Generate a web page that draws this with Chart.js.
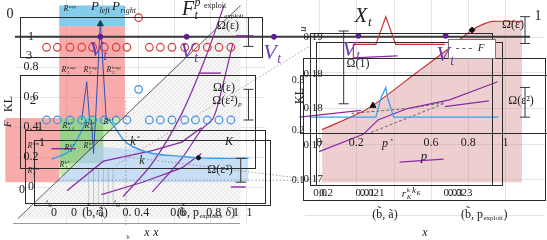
<!DOCTYPE html>
<html>
<head>
<meta charset="utf-8">
<script src="https://cdn.jsdelivr.net/npm/chart.js@4.4.1/dist/chart.umd.min.js"></script>
<style>
html,body{margin:0;padding:0;background:#fff}
canvas{display:block}
</style>
</head>
<body>
<canvas id="c" width="547" height="240"></canvas>
<script>
// ---------- left panel, unit axes (xL, yL) ----------
const circleX = [-0.109,-0.049,0.022,0.087,0.148,0.213,0.279,0.339,0.404,0.464,0.525,0.590,0.661,0.721,0.787,0.852,0.918];
const redCircleY = [0.93,0.93,0.93,0.93,0.93,0.93,0.93,0.93,1.127,0.93,0.93,0.93,0.93,0.93,0.93,0.93,0.93];
const blueCircleY = [0.446,0.446,0.446,0.446,0.446,0.446,0.446,0.446,0.65,0.446,0.446,0.446,0.446,0.446,0.446,0.446,0.446];

const blueCurveX = [0.224,0.262,0.317,0.372,0.481,0.645,0.738,0.809,1.016];
const blueCurveY = [0.459,0.414,0.318,0.268,0.223,0.204,0.194,0.191,0.191];
const blueLowX = [-0.082,0.016,0.082,0.115];
const blueLowY = [0.185,0.236,0.363,0.446];
const spikeLX = [0.087,0.115,0.131,0.142,0.153,0.164,0.191,0.224];
const spikeLY = [0.446,0.701,0.446,0.446,0.223,0.446,1.102,0.446];

const purple1X = [0.005,0.208,0.481,0.645,0.754];
const purple1Y = [-0.025,0.172,0.242,0.299,0.395];
const purple2X = [0.197,0.426,0.645,0.754];
const purple2Y = [-0.051,0.032,0.127,0.223];
const purple3X = [0.317,0.481,0.645,0.781,0.880];
const purple3Y = [-0.064,0.159,0.490,0.873,1.210];
const purple4X = [0.481,0.645,0.754,0.820,0.874,0.929];
const purple4Y = [-0.032,0.191,0.382,0.459,0.682,0.955];
const purpleSegs = [[-0.082,0.055,0.255],[0.738,0.863,0.758],[0.945,1.044,1.006],[0.918,1.000,0.0]];
const purpleDotX = [0.191,0.672,1.158];
const purpleDotY = [1.0,1.0,1.0];

const redRectA = [[-0.038,1.07],[0.328,1.07],[0.328,0.459],[-0.038,0.459]];
const redRectB = [[-0.339,0.459],[-0.038,0.459],[-0.038,0.032],[-0.339,0.032]];
const blueRect = [[-0.038,1.21],[0.328,1.21],[0.328,1.07],[-0.038,1.07]];
const greenLight = [[-0.038,0.459],[0.317,0.459],[-0.011,0.076],[-0.038,0.076]];
const greenDark = [[-0.038,0.459],[0.208,0.459],[0.208,0.159],[-0.038,0.159]];
const lightBlueX = [-0.055,0.153,0.372,0.552,0.738,1.016];
const lightBlueY = [0.032,0.268,0.255,0.210,0.191,0.191];
const diagX = [-0.268,0.973];
const diagY = [-0.210,1.210];

const dotted = [
  [[0.279,0.146],[1.355,0.936]],
  [[0.317,0.204],[1.355,0.051]],
  [[-0.038,0.045],[1.355,0.045]],
  [[0.333,0.573],[0.333,-0.255]]
];
const errL = [[1.016,0.936,1.127],[1.016,0.446,0.650],[0.973,0.032,0.191]];
const ruleX = [0.126,0.153,0.180,0.208,0.235,0.262];

// ---------- right panel (xR, KL) ----------
const redCurveX = [0.016,0.263,0.526,0.684,0.821,0.879,0.932,1.089];
const redCurveY = [0.17698,0.17993,0.18503,0.18812,0.19094,0.19174,0.19215,0.19215];
const xtX = [0.184,0.184,0.305,0.358,0.411,0.674];
const xtY = [0.18705,0.18893,0.18893,0.19282,0.18893,0.18893];
const spikeRX = [-0.053,0.305,0.332,0.358,0.368,0.400,0.963];
const spikeRY = [0.17872,0.17872,0.18141,0.18289,0.18141,0.17872,0.17872];
const purpleAX = [-0.105,0.226], purpleAY = [0.17872,0.17966];
const purpleBX = [0,0.237,0.316,0.474,0.700,0.958];
const purpleBY = [0.17389,0.17631,0.17832,0.17993,0.18114,0.18369];
const purpleCX = [0.674,0.911], purpleCY = [0.18020,0.18101];
const purplePX = [0.432,0.668], purplePY = [0.17242,0.17282];
const purpleVX = [0.184,0.421], purpleVY = [0.18705,0.18732];
const fLine1X = [0.174,0.474,0.668], fLine1Y = [0.17926,0.17993,0.18074];
const fLine2X = [0.279,0.668], fLine2Y = [0.17658,0.18060];
const uLineX = [-1.632,1.132], uLineY = [0.19,0.19];
const purpleDotRX = [0.211,0.679], purpleDotRY = [0.19013,0.19013];
const errR = [[0.132,0.18060,0.19081],[1.105,0.18906,0.19282],[1.105,0.17872,0.18289]];

const ticksLeftY = [0,0.2,0.4,0.6,0.8,1];
const ticksLeftX = [0,0.4,0.6,0.8,1];
const ticksRightX = [0,0.2,0.6,0.8,1];
const ticksRightY = [0.17,0.18,0.19];

const purple = '#8a2aa6';
const pts = (xs, ys) => xs.map((x, i) => ({x: x, y: ys[i]}));
const poly = a => a.concat([a[0]]).map(p => ({x: p[0], y: p[1]}));

// hatch for the region under the diagonal
const hc = document.createElement('canvas');
hc.width = 4; hc.height = 4;
const hx = hc.getContext('2d');
hx.fillStyle = '#f6f6f6'; hx.fillRect(0,0,4,4);
hx.strokeStyle = '#dcdcdc'; hx.lineWidth = 0.6;
hx.beginPath(); hx.moveTo(0,4); hx.lineTo(4,0); hx.stroke();
const hatch = hx.createPattern(hc, 'repeat');

const L = {xAxisID: 'xL', yAxisID: 'yL'};
const R = {xAxisID: 'xR', yAxisID: 'yR'};
const line = (data, color, extra) => Object.assign({data: data, borderColor: color, borderWidth: 1.2, pointRadius: 0, fill: false, order: 5}, extra);

const datasets = [
  // markers on top
  Object.assign({data: pts(circleX, redCircleY), showLine: false, pointRadius: 3.8, pointBorderColor: '#d43c3c', pointBackgroundColor: 'rgba(0,0,0,0)', pointBorderWidth: 1.2, order: 1}, L),
  Object.assign({data: pts(circleX, blueCircleY), showLine: false, pointRadius: 3.8, pointBorderColor: '#3d8fe6', pointBackgroundColor: 'rgba(0,0,0,0)', pointBorderWidth: 1.2, order: 1}, L),
  Object.assign({data: pts(purpleDotX, purpleDotY), showLine: false, pointRadius: 2.5, pointBackgroundColor: '#5a1f96', pointBorderColor: '#5a1f96', order: 1}, L),
  Object.assign({data: pts(purpleDotRX, purpleDotRY), showLine: false, pointRadius: 2.5, pointBackgroundColor: '#5a1f96', pointBorderColor: '#5a1f96', order: 1}, R),
  Object.assign({data: [{x: 0.191, y: 1.085}], showLine: false, pointStyle: 'triangle', pointRadius: 3.5, pointBackgroundColor: '#1d3c4c', pointBorderColor: '#1d3c4c', order: 1}, L),
  Object.assign({data: [{x: 0.738, y: 0.194}], showLine: false, pointRadius: 2, pointBackgroundColor: '#111', pointBorderColor: '#111', order: 1}, L),
  Object.assign({data: [{x: 0.289, y: 0.18034}], showLine: false, pointStyle: 'triangle', pointRadius: 3.5, pointBackgroundColor: '#111', pointBorderColor: '#111', order: 1}, R),
  Object.assign({data: [{x: 0.821, y: 0.19094}], showLine: false, pointStyle: 'rectRot', pointRadius: 3, pointBackgroundColor: '#111', pointBorderColor: '#111', order: 1}, R),

  // left lines
  Object.assign(line(pts(blueCurveX, blueCurveY), '#3a9ae8', {borderWidth: 1.4, tension: 0.3}), L),
  Object.assign(line(pts(blueLowX, blueLowY), '#3a9ae8', {borderWidth: 1.4, tension: 0.3}), L),
  Object.assign(line(pts(spikeLX, spikeLY), '#3350b4', {borderWidth: 1}), L),
  Object.assign(line(pts(purple1X, purple1Y), purple), L),
  Object.assign(line(pts(purple2X, purple2Y), purple), L),
  Object.assign(line(pts(purple3X, purple3Y), purple, {tension: 0.3}), L),
  Object.assign(line(pts(purple4X, purple4Y), purple, {tension: 0.3}), L),
  Object.assign(line(pts(diagX, diagY), '#333', {borderWidth: 0.8}), L),

  // right lines
  Object.assign(line(pts(redCurveX, redCurveY), '#c83232', {borderWidth: 1.2, tension: 0.25, fill: {value: 0.1696}, backgroundColor: 'rgba(214,140,140,0.42)', order: 15}), R),
  Object.assign(line(pts(xtX, xtY), '#c83232'), R),
  Object.assign(line(pts(spikeRX, spikeRY), '#3aa0f0', {borderWidth: 1.3}), R),
  Object.assign(line(pts(purpleAX, purpleAY), purple), R),
  Object.assign(line(pts(purpleBX, purpleBY), purple), R),
  Object.assign(line(pts(purpleCX, purpleCY), purple), R),
  Object.assign(line(pts(purplePX, purplePY), purple), R),
  Object.assign(line(pts(purpleVX, purpleVY), purple), R),
  Object.assign(line(pts(fLine1X, fLine1Y), '#666', {borderDash: [3,2], borderWidth: 1}), R),
  Object.assign(line(pts(fLine2X, fLine2Y), '#666', {borderDash: [3,2], borderWidth: 1}), R),
  Object.assign(line(pts(uLineX, uLineY), '#3a3a3a', {borderWidth: 2.2}), R),

  // left regions
  Object.assign({data: pts(diagX, diagY), borderWidth: 0, pointRadius: 0, fill: {value: -0.21}, backgroundColor: hatch, order: 20}, L),
  Object.assign({data: poly(redRectA), borderWidth: 0, pointRadius: 0, fill: 'shape', backgroundColor: 'rgba(242,120,120,0.62)', order: 19}, L),
  Object.assign({data: poly(redRectB), borderWidth: 0, pointRadius: 0, fill: 'shape', backgroundColor: 'rgba(242,120,120,0.62)', order: 19}, L),
  Object.assign({data: poly(blueRect), borderWidth: 0, pointRadius: 0, fill: 'shape', backgroundColor: 'rgba(110,195,232,0.85)', order: 19}, L),
  Object.assign({data: poly(greenLight), borderWidth: 0, pointRadius: 0, fill: 'shape', backgroundColor: 'rgba(190,234,168,0.95)', order: 18}, L),
  Object.assign({data: poly(greenDark), borderWidth: 0, pointRadius: 0, fill: 'shape', backgroundColor: 'rgba(120,185,115,0.55)', order: 17}, L),
  Object.assign({data: pts(lightBlueX, lightBlueY), borderWidth: 0, pointRadius: 0, fill: {value: 0.032}, backgroundColor: 'rgba(170,208,245,0.6)', order: 16}, L)
];

const labels = [
  // right panel
  {t: 'X', x: 361, y: 16, s: 21, it: true, sub: 't'},
  {t: 'Ω(ε)', x: 513, y: 25, s: 12},
  {t: '1', x: 538, y: 16, s: 14},
  {t: 'Ω(1)', x: 358, y: 64, s: 12},
  {t: 'Ω(ε²)', x: 521, y: 101, s: 12},
  {t: 'V', x: 349, y: 50, s: 22, it: true, sub: 't', c: '#6b3db3'},
  {t: 'V', x: 443, y: 55, s: 22, it: true, sub: 't', c: '#6b3db3'},
  {t: 'p', x: 385, y: 144, s: 12, it: true, sup: '⋆'},
  {t: 'p', x: 424, y: 157, s: 13, it: true},
  {t: 'KL', x: 300, y: 96, s: 12, rot: -Math.PI / 2},
  {t: 'u', x: 303, y: 29, s: 11, it: true, rot: -Math.PI / 2},
  {t: '0.18', x: 313, y: 74, s: 11},
  {t: '0.17', x: 313, y: 145, s: 11},
  {t: '0.3', x: 298, y: 80, s: 10},
  {t: '0.2', x: 298, y: 130, s: 10},
  {t: '0.1', x: 298, y: 180, s: 10},
  {t: '0.0', x: 320, y: 193, s: 11}, {t: '0.2', x: 326, y: 193, s: 11},
  {t: '0.01', x: 365, y: 193, s: 11}, {t: '0.021', x: 372, y: 193, s: 11},
  {t: 'r', x: 404, y: 194, s: 11, it: true, sub: 'K', sup: 'k'}, {t: 'k', x: 414, y: 191, s: 9, it: true, sub: 'K'},
  {t: '0.03', x: 453, y: 193, s: 11}, {t: '0.023', x: 460, y: 193, s: 11},
  {t: '(b̃, ã)', x: 385, y: 215, s: 12},
  {t: '(b̃, p', x: 472, y: 215, s: 12, sub: 'exploit', subIt: false, after: ')'},
  {t: 'x', x: 425, y: 233, s: 12, it: true},
  // legend
  {t: '- - -  F', x: 470, y: 48, s: 11, it: true},
  // left panel
  {t: 'F', x: 188, y: 10, s: 20, it: true, sub: 't', sup: 'p'},
  {t: 'P', x: 95, y: 7, s: 13, it: true, sub: 'left'}, {t: 'P', x: 116, y: 7, s: 13, it: true, sub: 'right'},
  {t: 'exploit', x: 215, y: 6, s: 8},
  {t: 'exploit', x: 234, y: 16, s: 7},
  {t: 'R', x: 66, y: 9, s: 8, it: true, sup: 'exp'},
  {t: 'R', x: 64, y: 70, s: 8, it: true, sub: '1', sup: 'loop'},
  {t: 'R', x: 86, y: 70, s: 8, it: true, sub: '2', sup: 'loop'},
  {t: 'R', x: 109, y: 70, s: 8, it: true, sub: '3', sup: 'loop'},
  {t: 'R', x: 65, y: 126, s: 8, it: true, sub: '1,1', sup: 'k*'},
  {t: 'R', x: 87, y: 126, s: 8, it: true, sub: '3', sup: 'k*'},
  {t: 'R', x: 106, y: 122, s: 8, it: true, sup: 'k*'},
  {t: 'R', x: 67, y: 148, s: 8, it: true, sub: '1', sup: 'k*'},
  {t: 'R', x: 86, y: 146, s: 8, it: true, sub: '2', sup: 'k*'},
  {t: 'R', x: 62, y: 165, s: 8, it: true, sub: '1', sup: 'k*'},
  {t: 'R', x: 30, y: 171, s: 8, it: true, sub: '2', sup: 'bin'},
  {t: 'R', x: 30, y: 146, s: 8, it: true, sub: '1', sup: 'bin'},
  {t: 'k', x: 133, y: 142, s: 12, it: true, sup: '*'},
  {t: 'k', x: 142, y: 161, s: 12, it: true},
  {t: 'K', x: 229, y: 142, s: 12, it: true},
  {t: 'Ω(ε)', x: 228, y: 26, s: 12},
  {t: 'Ω(ε)', x: 224, y: 88, s: 12},
  {t: 'Ω(ε²)', x: 225, y: 101, s: 12, sub: 'p', subIt: true},
  {t: 'Ω(ε²)', x: 220, y: 170, s: 12},
  {t: 'V', x: 96, y: 50, s: 22, it: true, sub: 't', c: '#6b3db3'},
  {t: 'V', x: 187, y: 52, s: 22, it: true, sub: 't', c: '#6b3db3'},
  {t: 'V', x: 270, y: 53, s: 22, it: true, sub: 't', c: '#6b3db3'},
  {t: '0', x: 10, y: 14, s: 14},
  {t: '3', x: 29, y: 56, s: 13},
  {t: '2', x: 33, y: 101, s: 13},
  {t: '1', x: 40, y: 127, s: 13},
  {t: '1', x: 42, y: 143, s: 13},
  {t: '0', x: 22, y: 190, s: 12},
  {t: 'KL', x: 9, y: 104, s: 12, rot: -Math.PI / 2},
  {t: 'F', x: 8, y: 124, s: 11, it: true, rot: -Math.PI / 2},
  {t: '0', x: 54, y: 213, s: 12},
  {t: 'ε̃', x: 50, y: 205, s: 9, rot: -Math.PI / 2},
  {t: '(b̃, ã)', x: 95, y: 213, s: 12},
  {t: 'r', x: 98, y: 212, s: 10, it: true, sub: 'K', sup: 'k'},
  {t: 'ε̃', x: 118, y: 205, s: 9, rot: -Math.PI / 2},
  {t: '0.', x: 127, y: 213, s: 12},
  {t: '(b̃, p', x: 188, y: 213, s: 12, sub: 'exploit', subIt: false, after: ', δ)'},
  {t: '1', x: 236, y: 213, s: 12},
  {t: 'x', x: 147, y: 233, s: 12, it: true}, {t: 'x', x: 156, y: 233, s: 12, it: true},
  {t: 'b', x: 128, y: 237, s: 6}
];

const frames = [
  [20,17,262,57],[20,75,255,168],[25,130,265,203],[34,140,270,205],
  [310,33,492,185],[316,42,502,185],[303,58,545,200],[300,75,547,133]
];

const serif = '"Liberation Serif", "DejaVu Serif", serif';
function put(ctx, o) {
  ctx.save();
  ctx.translate(o.x, o.y);
  if (o.rot) ctx.rotate(o.rot);
  ctx.font = (o.it ? 'italic ' : '') + o.s + 'px ' + serif;
  ctx.fillStyle = o.c || '#222';
  ctx.textBaseline = 'middle';
  const w = ctx.measureText(o.t).width;
  ctx.fillText(o.t, -w / 2, 0);
  let end = w / 2;
  if (o.sub || o.sup) {
    const ss = Math.round(o.s * 0.62);
    ctx.font = (o.subIt === false ? '' : 'italic ') + ss + 'px ' + serif;
    let ew = 0;
    if (o.sub) { ctx.fillText(o.sub, end + 0.5, o.s * 0.3); ew = ctx.measureText(o.sub).width; }
    if (o.sup) { ctx.fillText(o.sup, end + 0.5, -o.s * 0.35); ew = Math.max(ew, ctx.measureText(o.sup).width); }
    end += ew + 1;
  }
  if (o.after) {
    ctx.font = o.s + 'px ' + serif;
    ctx.fillText(o.after, end, 0);
  }
  ctx.restore();
}

const decor = {
  id: 'decor',
  beforeDatasetsDraw(chart) {
    const c = chart.ctx, s = chart.scales;
    c.save();
    c.strokeStyle = '#e4e4e4';
    c.lineWidth = 1;
    ticksLeftY.forEach(v => {
      const x = Math.round(s.xL.getPixelForValue(v)) + 0.5;
      const y = Math.round(s.yL.getPixelForValue(v)) + 0.5;
      c.beginPath(); c.moveTo(x, 0); c.lineTo(x, 223); c.stroke();
      c.beginPath(); c.moveTo(15, y); c.lineTo(265, y); c.stroke();
    });
    [0,0.2,0.4,0.6,0.8,1].forEach(v => {
      const x = Math.round(s.xR.getPixelForValue(v)) + 0.5;
      c.beginPath(); c.moveTo(x, 0); c.lineTo(x, 200); c.stroke();
    });
    [0.165,0.17,0.175,0.18,0.185,0.19].forEach(v => {
      const y = Math.round(s.yR.getPixelForValue(v)) + 0.5;
      c.beginPath(); c.moveTo(305, y); c.lineTo(545, y); c.stroke();
    });
    c.restore();
  },
  afterDatasetsDraw(chart) {
    const c = chart.ctx, s = chart.scales;
    c.save();
    // thin reference rules
    c.strokeStyle = 'rgba(120,120,120,0.45)';
    c.lineWidth = 0.8;
    ruleX.forEach(v => {
      const x = s.xL.getPixelForValue(v);
      c.beginPath(); c.moveTo(x, s.yL.getPixelForValue(0.127)); c.lineTo(x, s.yL.getPixelForValue(-0.127)); c.stroke();
    });
    // dotted guides
    c.strokeStyle = '#888';
    c.setLineDash([1.5, 2]);
    dotted.forEach(seg => {
      c.beginPath();
      c.moveTo(s.xL.getPixelForValue(seg[0][0]), s.yL.getPixelForValue(seg[0][1]));
      c.lineTo(s.xL.getPixelForValue(seg[1][0]), s.yL.getPixelForValue(seg[1][1]));
      c.stroke();
    });
    c.setLineDash([]);
    // short purple segments
    c.strokeStyle = purple; c.lineWidth = 1.4;
    purpleSegs.forEach(p => {
      const y = s.yL.getPixelForValue(p[2]);
      c.beginPath(); c.moveTo(s.xL.getPixelForValue(p[0]), y); c.lineTo(s.xL.getPixelForValue(p[1]), y); c.stroke();
    });
    // error bars
    c.strokeStyle = '#333'; c.lineWidth = 1;
    const bar = (x, y0, y1) => {
      c.beginPath();
      c.moveTo(x, y0); c.lineTo(x, y1);
      c.moveTo(x - 5, y0); c.lineTo(x + 5, y0);
      c.moveTo(x - 5, y1); c.lineTo(x + 5, y1);
      c.stroke();
    };
    errL.forEach(e => bar(s.xL.getPixelForValue(e[0]), s.yL.getPixelForValue(e[1]), s.yL.getPixelForValue(e[2])));
    errR.forEach(e => bar(s.xR.getPixelForValue(e[0]), s.yR.getPixelForValue(e[1]), s.yR.getPixelForValue(e[2])));
    // frames
    c.strokeStyle = '#2a2a2a'; c.lineWidth = 1;
    frames.forEach(f => c.strokeRect(f[0] + 0.5, f[1] + 0.5, f[2] - f[0], f[3] - f[1]));
    c.beginPath(); c.moveTo(13, 223.5); c.lineTo(240, 223.5); c.strokeStyle = '#999'; c.stroke();
    // legend box
    c.fillStyle = '#fff'; c.strokeStyle = '#777';
    c.fillRect(448, 39, 47, 19); c.strokeRect(448.5, 39.5, 47, 19);
    c.restore();

    // tick labels from the scales
    ticksLeftY.forEach(v => put(c, {t: String(v), x: 31, y: s.yL.getPixelForValue(v), s: 12}));
    ticksLeftX.forEach(v => put(c, {t: String(v), x: s.xL.getPixelForValue(v) + (v === 0 ? 8 : 4), y: 213, s: 12}));
    ticksRightX.forEach(v => put(c, {t: String(v), x: s.xR.getPixelForValue(v), y: 143, s: 12}));
    ticksRightY.forEach(v => put(c, {t: v.toFixed(2), x: 313, y: s.yR.getPixelForValue(v), s: 11}));
    labels.forEach(o => put(c, o));
  }
};

new Chart(document.getElementById('c'), {
  type: 'line',
  data: {datasets: datasets},
  options: {
    responsive: false,
    animation: false,
    layout: {padding: 0},
    plugins: {legend: {display: false}, tooltip: {enabled: false}},
    scales: {
      xL: {type: 'linear', display: false, min: -0.339, max: 2.650},
      yL: {type: 'linear', display: false, min: -0.318, max: 1.210},
      xR: {type: 'linear', display: false, min: -1.684, max: 1.195},
      yR: {type: 'linear', display: false, min: 0.162215, max: 0.19443}
    }
  },
  plugins: [decor]
});
</script>
</body>
</html>
